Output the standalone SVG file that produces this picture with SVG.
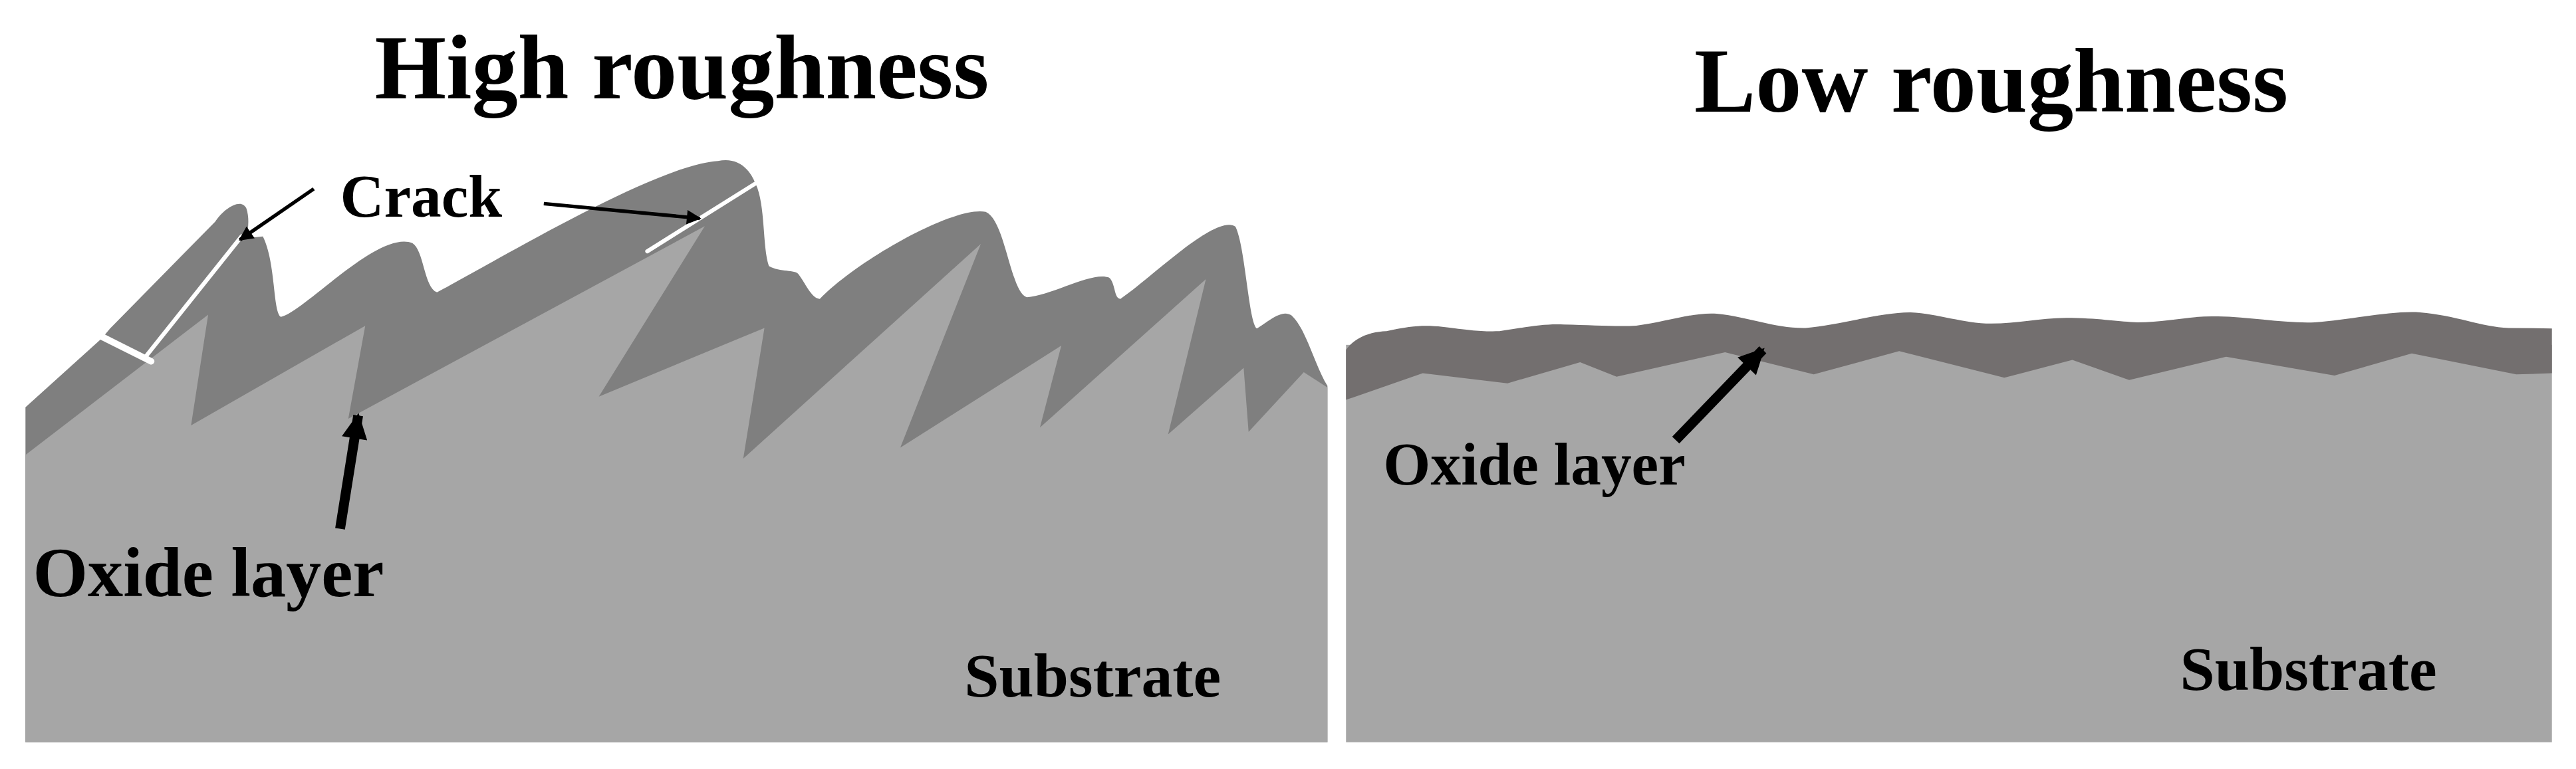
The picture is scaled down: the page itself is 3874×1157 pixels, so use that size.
<svg xmlns="http://www.w3.org/2000/svg" width="3874" height="1157" viewBox="0 0 3874 1157">
<style>
.t{font-family:"Liberation Serif","Times New Roman",serif;font-weight:bold;fill:#000}
.crack{stroke:#fff;fill:none;stroke-linecap:round}
.thin{stroke:#000;stroke-width:2.2;fill:none}
.thick{stroke:#000;stroke-width:6;fill:none}
</style>
<defs>
<marker id="ah" viewBox="0 0 10 10" refX="9" refY="5" markerWidth="5" markerHeight="4" orient="auto" markerUnits="strokeWidth"><path d="M0,0L10,5L0,10z" fill="#000"/></marker>
<marker id="ahT" viewBox="0 0 10 10" refX="9" refY="5" markerWidth="3.2" markerHeight="2.6" orient="auto" markerUnits="strokeWidth"><path d="M0,0L10,5L0,10z" fill="#000"/></marker>
</defs>
<rect width="3874" height="1157" fill="#fff"/>
<g transform="scale(2.4707)">
<g id="left-panel">
<path fill="#7f7f7f" d="M15.5,248 L62,206 L67,200 L131,135 C136,127 147,120 150,127 C152,133 151,140 150,145 L160,144 C168,160 166,190 171,193 C185,190 230,140 251,148 C258,152 258,175 266,178 C300,160 400,100 437,98 C447,96 455,100 460,112 C466,125 464,150 468,162 C475,166 484,164 486,167 C490,172 494,182 499,182 C520,160 580,125 600,129 C612,134 615,178 625,181 C640,180 665,165 675,169 C679,172 678,182 682,182 C700,170 740,130 752,138 C758,150 760,196 765,200 C772,196 780,188 786,192 C795,200 800,222 808,235 L808,452 L15.5,452 Z"/>
<path fill="#a6a6a6" d="M15.5,277 L126.7,191.6 L116.3,259 L222.3,198.4 L212,255 L429,137.7 L364.5,241.5 L465.3,199.7 L452.4,279.3 L597,148.5 L548,272.6 L646,210.5 L633,260.4 L734,170 L711,264.5 L757,224 L760,263 L793.6,226.7 L808,236 L808,452 L15.5,452 Z"/>
<path class="crack" stroke-width="4" d="M60,204 L92,220"/>
<path class="crack" stroke-width="2.5" d="M147,144 L88,218"/>
<path class="crack" stroke-width="2.5" d="M461,111 L394,153"/>
</g>
<g id="right-panel">
<rect x="819.3" y="210" width="734" height="242" fill="#a6a6a6"/>
<path fill="#736f6f" d="M819.3,243.5 L819.3,213 C825,205 835,202 843.9,201.7 C860,198 868,198 878,199 C895,201 900,202 912.7,201.7 C930,199 940,197 952,197.6 C970,198 985,199 996,198.3 C1015,196 1030,190 1045,191 C1065,193 1080,200 1099,199.7 C1120,198 1145,190 1163,190.2 C1180,191 1195,197 1212,197 C1230,197 1245,193 1261,193.6 C1280,194 1290,196 1301,196.3 C1320,196 1335,192 1350,192.7 C1370,193 1390,197 1409,196.3 C1430,195 1455,189 1473,190.2 C1495,192 1510,199 1527,199.7 L1553.3,200 L1553.3,227.3 L1531.6,228 L1468,215.2 L1421,228.7 L1355,217.2 L1296,231.4 L1261.4,219.2 L1220,230 L1156,213.8 L1104,228 L1050,214.5 L984,229.4 L961.8,220.6 L917.6,233.4 L866,227.3 Z"/>
</g>
<g id="connectors">
<path class="thin" marker-end="url(#ah)" d="M191,115 L146,146"/>
<path class="thin" marker-end="url(#ah)" d="M331,124 L426,133"/>
<path class="thick" marker-end="url(#ahT)" d="M207,322 L218,253"/>
<path class="thick" marker-end="url(#ahT)" d="M1020,268 L1073,213"/>
</g>
<g id="labels">
<text class="t" x="415" y="60" font-size="56" text-anchor="middle">High roughness</text>
<text class="t" x="1212" y="68" font-size="56" text-anchor="middle">Low roughness</text>
<text class="t" x="207" y="132" font-size="37">Crack</text>
<text class="t" x="20" y="363" font-size="43">Oxide layer</text>
<text class="t" x="842" y="295" font-size="37">Oxide layer</text>
<text class="t" x="587" y="424" font-size="38">Substrate</text>
<text class="t" x="1327" y="420" font-size="38">Substrate</text>
</g>
</g>
</svg>
